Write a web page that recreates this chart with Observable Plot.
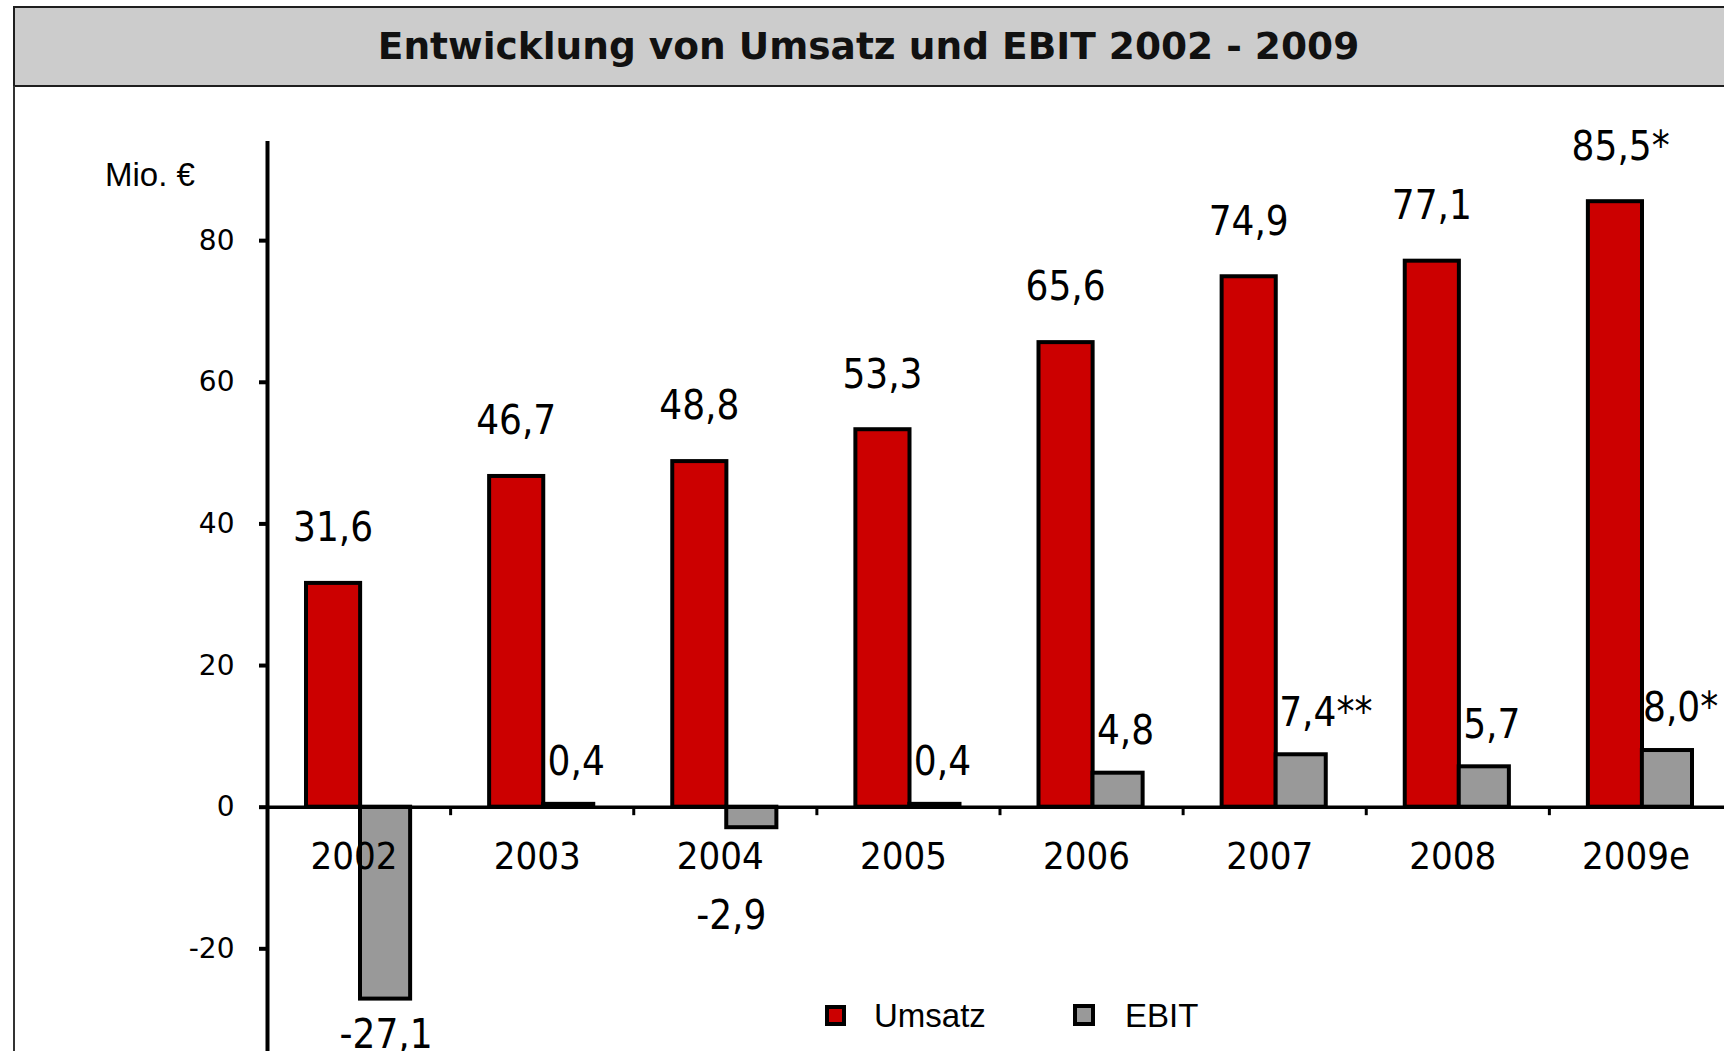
<!DOCTYPE html>
<html>
<head>
<meta charset="utf-8">
<script src="https://cdn.jsdelivr.net/npm/d3@7"></script>
<script src="https://cdn.jsdelivr.net/npm/@observablehq/plot@0.6"></script>
<style>
  html, body { margin: 0; padding: 0; background: #fff; }
  #wrap { position: relative; width: 1724px; height: 1051px; overflow: hidden; background: #fff; }
  #titlebox { position: absolute; left: 13px; top: 6px; width: 1740px; height: 81px; box-sizing: border-box;
    background: #cccccc; border: 2px solid #1e1e1e; }
  #title { position: absolute; left: 13px; top: 6px; width: 1711px; height: 81px; line-height: 81px; text-align: center;
    font-family: "DejaVu Sans", Verdana, sans-serif; font-weight: bold; font-size: 37.5px; color: #111; }
  #leftline { position: absolute; left: 13px; top: 86px; width: 2px; height: 970px; background: #333; }
  #chart { position: absolute; left: 0; top: 86px; }
  #chart svg { max-width: none !important; overflow: visible; }
  #unit { position: absolute; left: 105px; top: 156px; font-family: "Liberation Sans", Arial, sans-serif; font-size: 33px; color: #000; }
  .leg { position: absolute; font-family: "Liberation Sans", Arial, sans-serif; font-size: 33px; color: #000; line-height: 40px; }
  .sw { position: absolute; box-sizing: border-box; border: 4px solid #000; }
  #chart g[aria-label="y-axis tick"], #chart g[aria-label="y-axis tick"] path,
  #chart g[aria-label="y-axis"] .tick line { stroke-width: 4px; }
</style>
</head>
<body>
<div id="wrap">
  <div id="titlebox"></div>
  <div id="title">Entwicklung von Umsatz und EBIT 2002 - 2009</div>
  <div id="leftline"></div>
  <div id="chart"></div>
  <div id="unit">Mio. €</div>
  <div class="sw" style="left:825px; top:1005px; width:21px; height:21px; background:#cc0000;"></div>
  <div class="leg" style="left:874px; top:996px;">Umsatz</div>
  <div class="sw" style="left:1073px; top:1004px; width:22px; height:22px; background:#999999;"></div>
  <div class="leg" style="left:1125px; top:996px;">EBIT</div>
</div>
<script>
// ---- data ----
const years = ["2002", "2003", "2004", "2005", "2006", "2007", "2008", "2009e"];
const umsatz = [31.6, 46.7, 48.8, 53.3, 65.6, 74.9, 77.1, 85.5];
const ebit = [-27.1, 0.4, -2.9, 0.4, 4.8, 7.4, 5.7, 8.0];
const umsatzNotes = ["", "", "", "", "", "", "", "*"];
const ebitNotes = ["", "", "", "", "", "**", "", "*"];
const yTicks = [-20, 0, 20, 40, 60, 80];

const RED = "#cc0000", GRAY = "#999999";
const NARROW = "'Liberation Sans Narrow', 'Arial Narrow', 'DejaVu Sans Condensed', sans-serif";
const AXISFONT = "'DejaVu Sans', Verdana, sans-serif";

const de = d3.formatLocale({decimal: ",", thousands: ".", grouping: [3], currency: ["", " €"], minus: "-"});
const fmt = de.format(".1f");
const pad = (note) => "\u00a0".repeat(Math.round(note.length * 1.4));

const data = years.map((year, i) => ({
  year,
  umsatz: umsatz[i],
  ebit: ebit[i],
  uLabel: pad(umsatzNotes[i]) + fmt(umsatz[i]) + umsatzNotes[i],
  eLabel: pad(ebitNotes[i]) + fmt(ebit[i]) + ebitNotes[i]
}));

const W = 1732, H = 965, ML = 267, MR = 0, MT = 55, MB = 0;
const Y_DOMAIN = [-34.5, 94];
const step = (W - ML - MR) / years.length;

const yAxisOpts = {ticks: yTicks, tickSize: 8, tickPadding: 25, tickFormat: d => String(d), label: null,
  fontSize: 28, fontFamily: AXISFONT, strokeWidth: 4, stroke: "#000"};
const hasAxisMark = typeof Plot.axisY === "function";

const chart = Plot.plot({
  width: W, height: H,
  marginLeft: ML, marginRight: MR, marginTop: MT, marginBottom: MB,
  style: {background: "transparent", fontFamily: AXISFONT, fontSize: "28px", color: "#000", overflow: "visible", maxWidth: "none"},
  x: {type: "band", domain: years, padding: 0, round: false, axis: null},
  y: hasAxisMark
    ? {domain: Y_DOMAIN, axis: null}
    : {domain: Y_DOMAIN, ticks: yTicks, tickSize: 8, tickPadding: 25, tickFormat: d => String(d), label: null},
  marks: [
    hasAxisMark ? Plot.axisY(yAxisOpts) : null,
    Plot.barY(data, {x: "year", y: "umsatz", fill: RED, stroke: "#000", strokeWidth: 4, insetLeft: 39, insetRight: 90}),
    Plot.barY(data, {x: "year", y: "ebit", fill: GRAY, stroke: "#000", strokeWidth: 4, insetLeft: 93, insetRight: 40}),
    // axis lines and category boundary ticks
    Plot.ruleY([0], {stroke: "#000", strokeWidth: 3.5}),
    Plot.ruleX([years[0]], {x: d => d, y1: Y_DOMAIN[0], y2: Y_DOMAIN[1], dx: -step / 2, stroke: "#000", strokeWidth: 4}),
    Plot.ruleX(years, {x: d => d, y1: 0, y2: -1.2, dx: -step / 2, stroke: "#000", strokeWidth: 3}),
    // value labels
    Plot.text(data, {x: "year", y: "umsatz", text: "uLabel", dx: -26, dy: -55, fontSize: 40, fontFamily: NARROW, fill: "#000"}),
    Plot.text(data.filter(d => d.ebit >= 0), {x: "year", y: "ebit", text: "eLabel", dx: 34, dy: -42, fontSize: 40, fontFamily: NARROW, fill: "#000"}),
    Plot.text(data.filter(d => d.ebit < -10), {x: "year", y: "ebit", text: "eLabel", dx: 27, dy: 36, fontSize: 40, fontFamily: NARROW, fill: "#000"}),
    Plot.text(data.filter(d => d.ebit < 0 && d.ebit >= -10), {x: "year", y: "ebit", text: "eLabel", dx: 6, dy: 88, fontSize: 40, fontFamily: NARROW, fill: "#000"}),
    // category labels
    Plot.text(years, {x: d => d, y: () => 0, text: d => d, dx: -5, dy: 50, fontSize: 38, fontFamily: NARROW, fill: "#000"})
  ].filter(Boolean)
});
document.getElementById("chart").appendChild(chart);
</script>
</body>
</html>
